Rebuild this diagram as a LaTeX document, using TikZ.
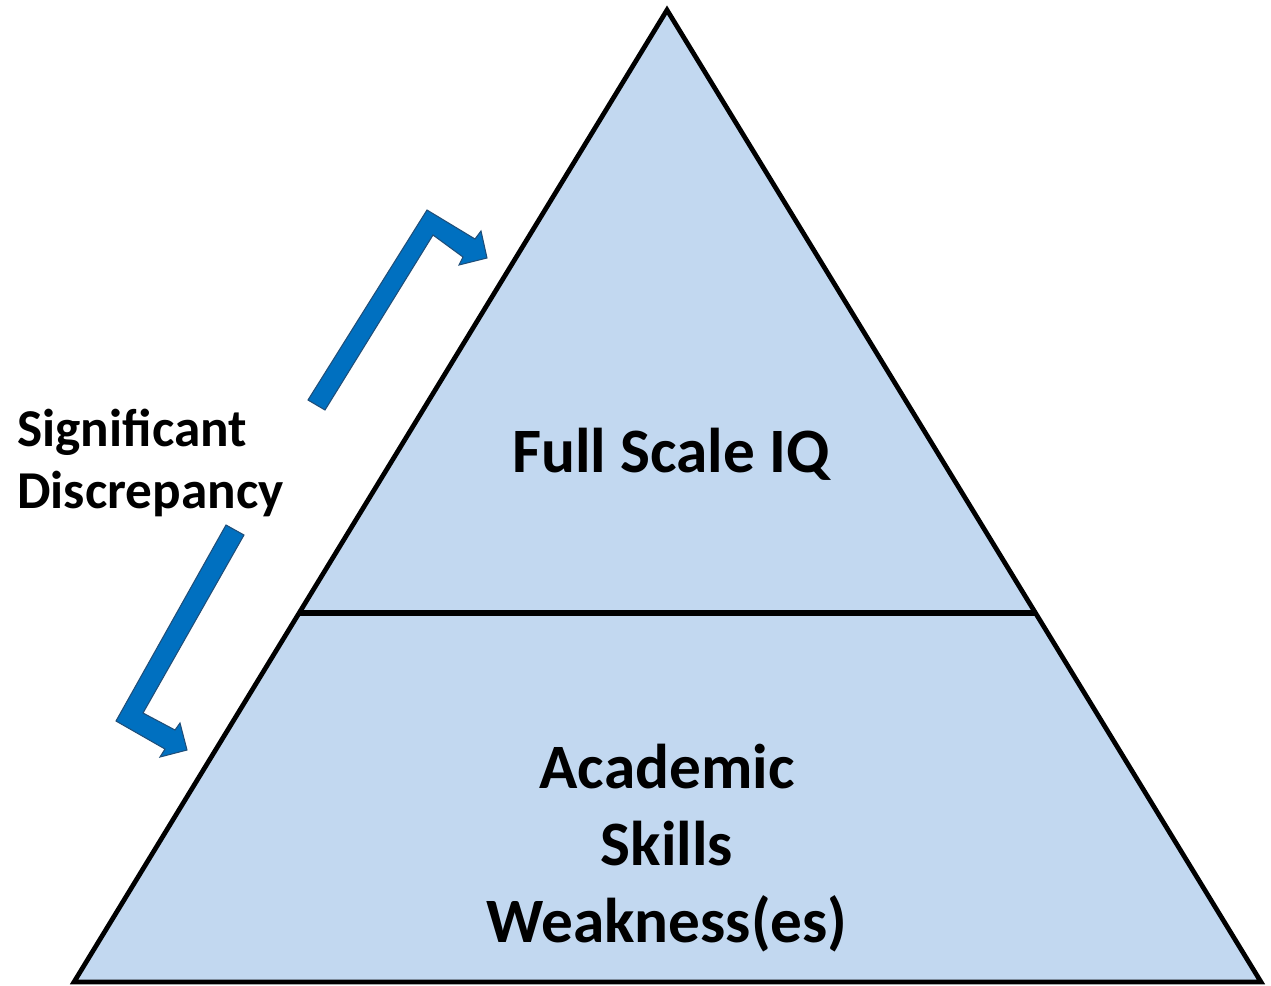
\documentclass[tikz,border=0pt]{standalone}
\usepackage{fontspec}
\setmainfont{Carlito}
\definecolor{pyrfill}{HTML}{C2D8F0}
\definecolor{arrfill}{HTML}{0070C0}
\definecolor{arredge}{HTML}{1F4E79}
\tikzset{
  pyr/.style={fill=pyrfill, draw=black, line width=2.7pt, line join=miter},
  divider/.style={draw=black, line width=3.8pt},
  bentarrow/.style={fill=arrfill, draw=arredge, line width=0.6pt, line join=miter},
  bigtext/.style={font=\bfseries\fontsize{36}{43.7}\selectfont, align=center, inner sep=0pt},
  sidetext/.style={font=\bfseries\fontsize{30.3}{35.2}\selectfont, align=left, inner sep=0pt}
}
\begin{document}
\begin{tikzpicture}[x=0.02cm, y=-0.02cm]
\useasboundingbox (0,0) rectangle (1271,985);
% pyramid
\coordinate (apex) at (667,10);
\coordinate (bl) at (74,982);
\coordinate (br) at (1261,982);
\coordinate (ml) at (299,613);
\coordinate (mr) at (1035.5,613);
\draw[pyr] (apex) -- (br) -- (bl) -- cycle;
\draw[divider] (ml) -- (mr);
% labels
\node[bigtext, anchor=base] (fsiq) at (671,472) {Full Scale IQ};
\node[bigtext] (acad) at (667,848) {Academic\\Skills\\Weakness(es)};
\node[sidetext, anchor=base west] (sig) at (17,508) {Significant\\Discrepancy};
% upper bent arrow
\draw[bentarrow] (308,400) -- (427,210) -- (475,239) -- (481,231) -- (487,258)
  -- (459,265) -- (463,257) -- (433,235) -- (325,410) -- cycle;
% lower bent arrow
\draw[bentarrow] (226,525) -- (244,535) -- (143,713) -- (175,730) -- (180,723)
  -- (187,750) -- (160,757) -- (165,749) -- (116,721) -- cycle;
\end{tikzpicture}
\end{document}
